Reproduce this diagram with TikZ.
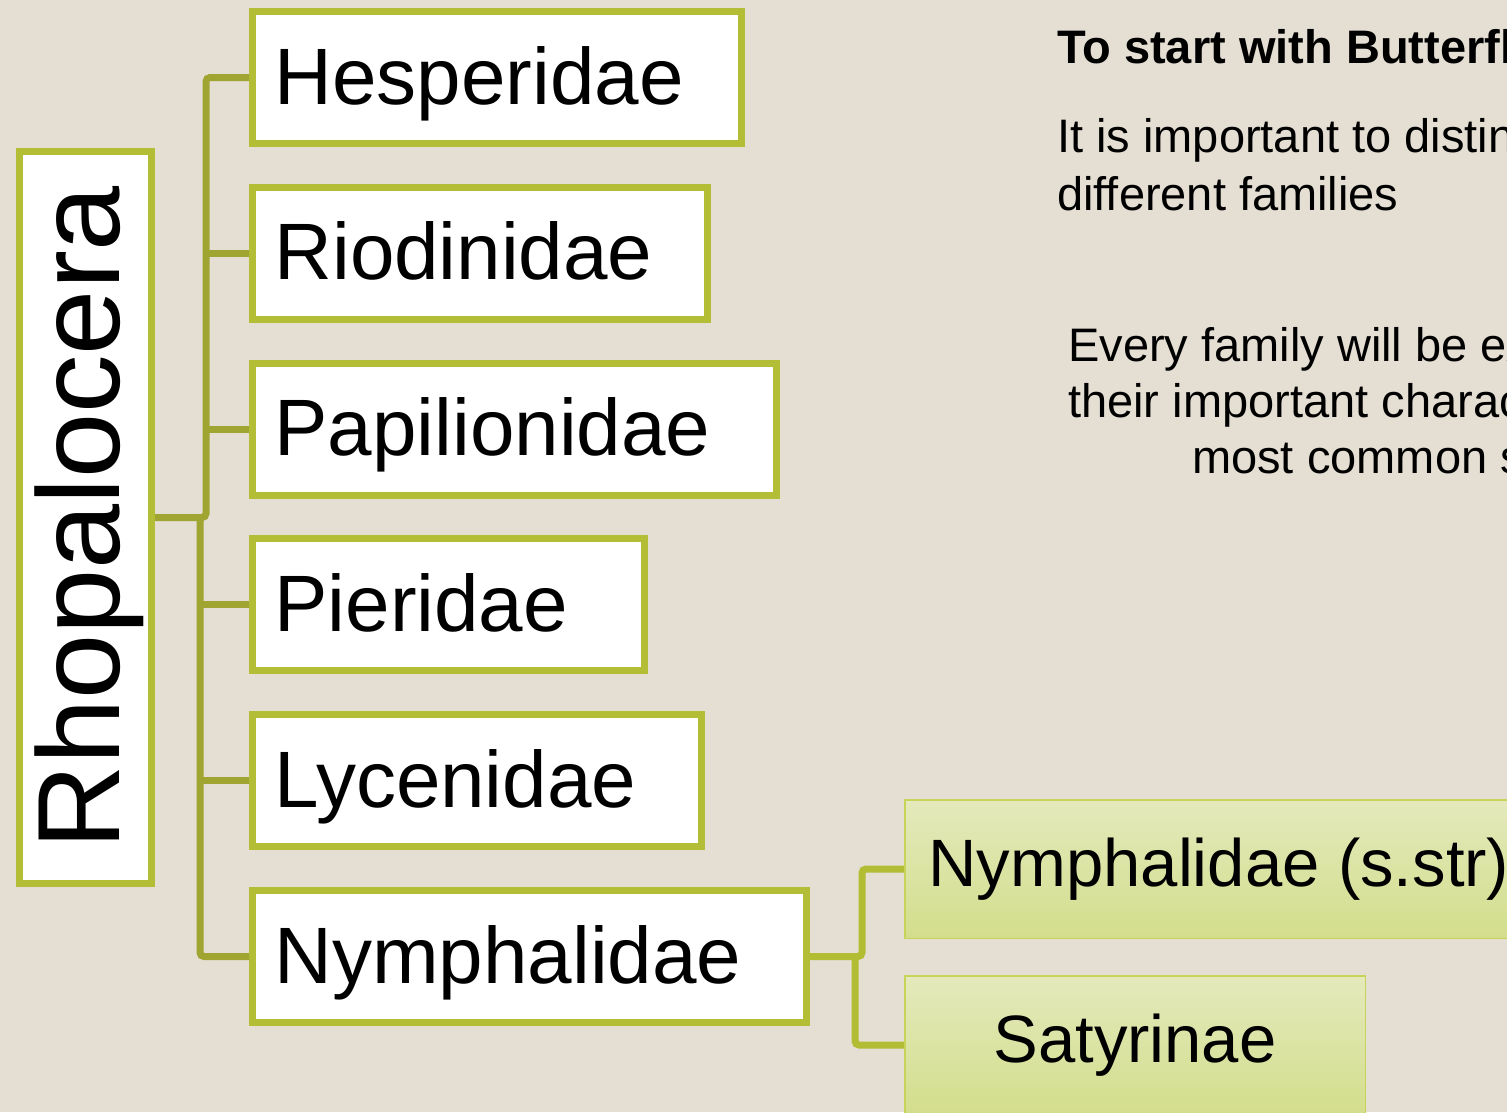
\documentclass[tikz,border=0pt]{standalone}
\usepackage{fontspec}
\setmainfont{Liberation Sans}
\usetikzlibrary{positioning}
\definecolor{slidebg}{HTML}{E4DED3}
\definecolor{famgreen}{HTML}{B3BE36}
\definecolor{treegreen}{HTML}{A0A531}
\definecolor{subgreen}{HTML}{B2BD33}
\definecolor{subedge}{HTML}{C8D35A}
\definecolor{subtop}{HTML}{E4E9BC}
\definecolor{subbot}{HTML}{D3DE8C}

\begin{document}
\begin{tikzpicture}[x=1pt,y=-1pt,
  famb/.style={draw=famgreen,line width=7pt,fill=white,anchor=north west,minimum height=132pt,text width=#1,text height=62pt,text depth=9pt,align=left,inner xsep=22pt,font=\fontsize{80}{96}\selectfont},
  subb/.style={draw=subedge,line width=1.5pt,top color=subtop,bottom color=subbot,anchor=north west,minimum width=#1,minimum height=138.5pt,font=\fontsize{67}{80}\selectfont},
  conn/.style={draw=treegreen,line width=7pt,rounded corners=4pt},
  subconn/.style={conn,draw=subgreen},
  note/.style={anchor=base west,inner sep=0pt,font=\fontsize{47}{58}\selectfont},
  node distance=36.8pt]
  \useasboundingbox (0,0) rectangle (1507,1112);
  \fill[slidebg] (0,0) rectangle (1507,1112);
  \clip (0,0) rectangle (1507,1112);
  % order and families
  \node[draw=famgreen,line width=7pt,fill=white,rotate=90,minimum width=732pt,minimum height=132pt,text height=86pt,text depth=18pt,font=\fontsize{117}{130}\selectfont] (rhop) at (85.5,517.5) {Rhopalocera};
  \node[famb=445pt] (hesp) at (249,8) {Hesperidae};
  \node[famb=411pt,below=of hesp.south west,anchor=north west] (riod) {Riodinidae};
  \node[famb=480pt,below=of riod.south west,anchor=north west] (papi) {Papilionidae};
  \node[famb=348pt,below=of papi.south west,anchor=north west] (pier) {Pieridae};
  \node[famb=405pt,below=of pier.south west,anchor=north west] (lyce) {Lycenidae};
  \node[famb=510pt,below=of lyce.south west,anchor=north west] (nymph) {Nymphalidae};
  % subfamilies
  \node[subb=628.5pt] (nsstr) at (904,799) {Nymphalidae (s.str)};
  \node[subb=460.5pt,below=36pt of nsstr.south west,anchor=north west] (saty) {Satyrinae};
  % tree
  \coordinate (uptrunk) at ([xshift=-43pt]hesp.west);
  \coordinate (lowtrunk) at ([xshift=-49pt]nymph.west);
  \draw[conn] (rhop.south) -| (uptrunk) -- (hesp.west);
  \draw[conn] (riod.west) -- ++(-46.5pt,0);
  \draw[conn] (papi.west) -- ++(-46.5pt,0);
  \draw[conn] (lowtrunk |- rhop.south) |- (nymph.west);
  \draw[conn] (pier.west) -- ++(-52.5pt,0);
  \draw[conn] (lyce.west) -- ++(-52.5pt,0);
  \coordinate (nsstrtrunk) at ([xshift=-42pt]nsstr.west);
  \coordinate (satytrunk) at ([xshift=-49pt]saty.west);
  \draw[subconn] (nymph.east) -| (nsstrtrunk) -- (nsstr.west);
  \draw[subconn] (satytrunk |- nymph.east) |- (saty.west);
  % notes
  \node[note,font=\bfseries\fontsize{47}{58}\selectfont] (title) at (1057,63) {To start with Butterflies};
  \node[note] (intro1) at (1057,152) {It is important to distinguish the};
  \node[note] (intro2) at (1057,210) {different families};
  \node[note] (expl1) at (1068,361) {Every family will be explained with};
  \node[note] (expl2) at (1068,417) {their important characteristics and};
  \node[note] (expl3) at (1192,473) {most common species};
\end{tikzpicture}
\end{document}
